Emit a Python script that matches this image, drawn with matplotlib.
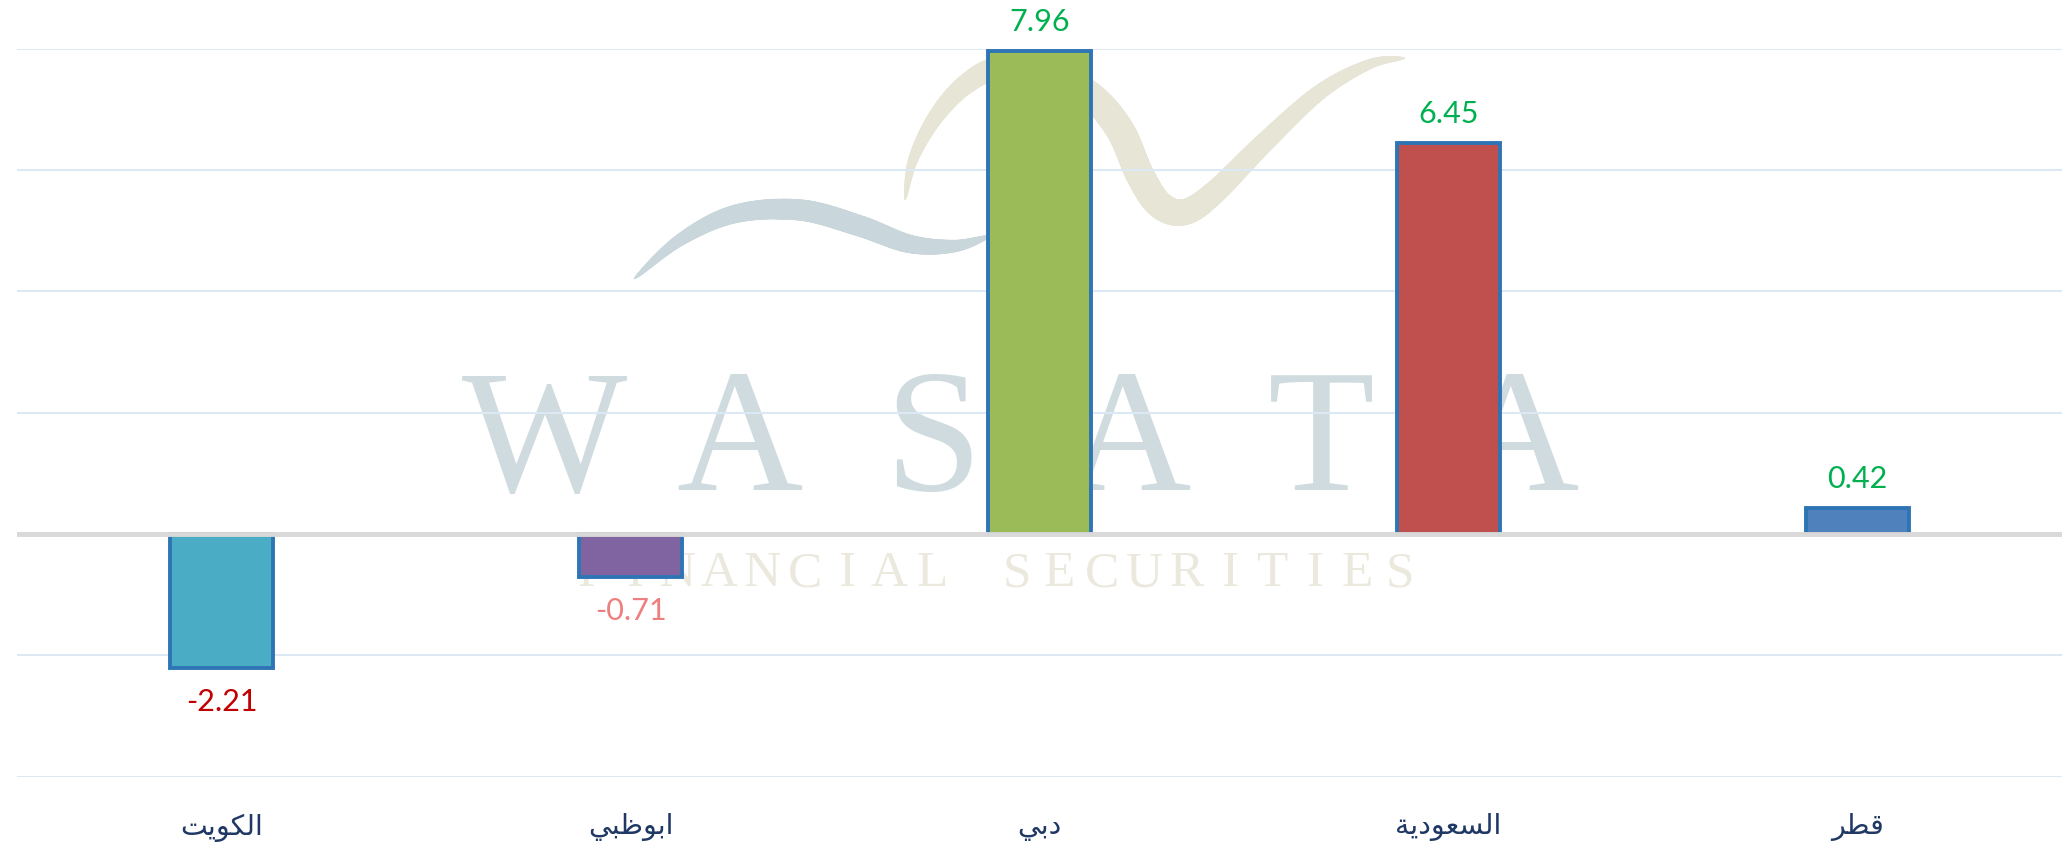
import numpy as np
import matplotlib
matplotlib.use('Agg')
import matplotlib.pyplot as plt
from matplotlib.collections import LineCollection

# ---------------- data ----------------
categories = ['الكويت', 'ابوظبي', 'دبي', 'السعودية', 'قطر']
values = [-2.21, -0.71, 7.96, 6.45, 0.42]
bar_colors = ['#4BACC6', '#8064A2', '#9BBB59', '#C0504D', '#4F81BD']
label_colors = ['#C00000', '#EE7F7F', '#00B050', '#00B050', '#00B050']
y_ticks = [-4, -2, 0, 2, 4, 6, 8]

# ---------------- arabic shaping (presentation forms) ----------------
DUAL = {
    'ب': (0xFE8F, 0xFE90, 0xFE91, 0xFE92),
    'ت': (0xFE95, 0xFE96, 0xFE97, 0xFE98),
    'س': (0xFEB1, 0xFEB2, 0xFEB3, 0xFEB4),
    'ط': (0xFEC1, 0xFEC2, 0xFEC3, 0xFEC4),
    'ظ': (0xFEC5, 0xFEC6, 0xFEC7, 0xFEC8),
    'ع': (0xFEC9, 0xFECA, 0xFECB, 0xFECC),
    'ق': (0xFED5, 0xFED6, 0xFED7, 0xFED8),
    'ك': (0xFED9, 0xFEDA, 0xFEDB, 0xFEDC),
    'ل': (0xFEDD, 0xFEDE, 0xFEDF, 0xFEE0),
    'ي': (0xFEF1, 0xFEF2, 0xFEF3, 0xFEF4),
}
RIGHT = {
    'ا': (0xFE8D, 0xFE8E),
    'ة': (0xFE93, 0xFE94),
    'د': (0xFEA9, 0xFEAA),
    'ر': (0xFEAD, 0xFEAE),
    'و': (0xFEED, 0xFEEE),
}


def shape_arabic(s):
    out = []
    n = len(s)
    for i, ch in enumerate(s):
        prev = s[i - 1] if i > 0 else None
        nxt = s[i + 1] if i < n - 1 else None
        jp = prev in DUAL
        if ch in DUAL:
            jn = nxt is not None and (nxt in DUAL or nxt in RIGHT)
            iso, fin, ini, med = DUAL[ch]
            f = med if (jp and jn) else fin if jp else ini if jn else iso
        elif ch in RIGHT:
            iso, fin = RIGHT[ch]
            f = fin if jp else iso
        else:
            f = ord(ch)
        out.append(chr(f))
    return ''.join(reversed(out))


W, H = 2064, 846
fig = plt.figure(figsize=(W / 100, H / 100), dpi=100)
fig.patch.set_facecolor('white')

# ---------------- watermark (background layer, pixel coords) ----------------
bg = fig.add_axes([0, 0, 1, 1], zorder=0)
bg.set_xlim(0, W)
bg.set_ylim(H, 0)
bg.axis('off')


def catmull(pts, n=30):
    p = np.array(pts, float)
    p = np.vstack([p[0], p, p[-1]])
    res = []
    for i in range(1, len(p) - 2):
        p0, p1, p2, p3 = p[i - 1], p[i], p[i + 1], p[i + 2]
        t = np.linspace(0, 1, n, endpoint=False)[:, None]
        seg = 0.5 * ((2 * p1) + (-p0 + p2) * t + (2 * p0 - 5 * p1 + 4 * p2 - p3) * t ** 2
                     + (-p0 + 3 * p1 - 3 * p2 + p3) * t ** 3)
        res.append(seg)
    res.append(p[-2][None, :])
    return np.vstack(res)


def swoosh(pts, wmax, color):
    c = catmull(pts)
    segs = np.stack([c[:-1], c[1:]], axis=1)
    t = np.linspace(0, 1, len(segs))
    widths = wmax * (np.sin(np.pi * t) ** 0.7) + 0.5
    lc = LineCollection(segs, linewidths=widths, colors=color, capstyle='round')
    bg.add_collection(lc)


swoosh([(634, 279), (680, 240), (735, 214), (800, 210), (860, 226),
        (910, 244), (955, 246), (990, 236)], 15, '#C9D6DB')
swoosh([(905, 200), (913, 160), (935, 118), (965, 85), (1000, 68), (1050, 75),
        (1090, 95), (1120, 130), (1140, 175), (1160, 205), (1185, 212),
        (1215, 192), (1265, 142), (1320, 92), (1370, 64), (1405, 58)], 20, '#E6E5D6')

wm_letters = ['W', 'A', 'S', 'A', 'T', 'A']
for k, letter in enumerate(wm_letters):
    bg.text(545 + k * 194, 448, letter, ha='center', va='center', fontsize=126,
            family='Liberation Serif', color='#CFDBDF')

wm_sub = 'FINANCIAL SECURITIES'
for k, letter in enumerate(wm_sub):
    bg.text(592 + k * 42.5, 574, letter, ha='center', va='center', fontsize=37,
            family='Liberation Serif', color='#EBE9DD')

# ---------------- main chart ----------------
left, right = 17, 2062
top, bottom = 48.7, 776.6
ax = fig.add_axes([left / W, 1 - bottom / H, (right - left) / W, (bottom - top) / H], zorder=1)
ax.patch.set_alpha(0)

x = np.arange(len(categories))
ax.bar(x, values, width=0.25, color=bar_colors, edgecolor='#2E75B6',
       linewidth=2.8, zorder=3)
ax.axhline(0, color='#D9D9D9', lw=3.5, zorder=4)

ax.set_xlim(-0.5, len(categories) - 0.5)
ax.set_ylim(-4, 8)
ax.set_yticks(y_ticks)
ax.yaxis.grid(True, color='#DDE8F5', lw=1.5)
ax.set_axisbelow(True)
for s in ax.spines.values():
    s.set_visible(False)
ax.tick_params(left=False, labelleft=False, bottom=False, pad=23)
ax.set_xticks(x)
ax.set_xticklabels([shape_arabic(c) for c in categories], fontsize=20.5,
                   color='#1F3864', family='DejaVu Sans')

for i, v in enumerate(values):
    off = 21 if v > 0 else -24.5
    ax.annotate(f'{v:.2f}', (i, v), xytext=(0, off), textcoords='offset points',
                ha='center', va='center', fontsize=22, color=label_colors[i],
                family='Lato', annotation_clip=False, zorder=5)

fig.savefig('out.png', dpi=100)
